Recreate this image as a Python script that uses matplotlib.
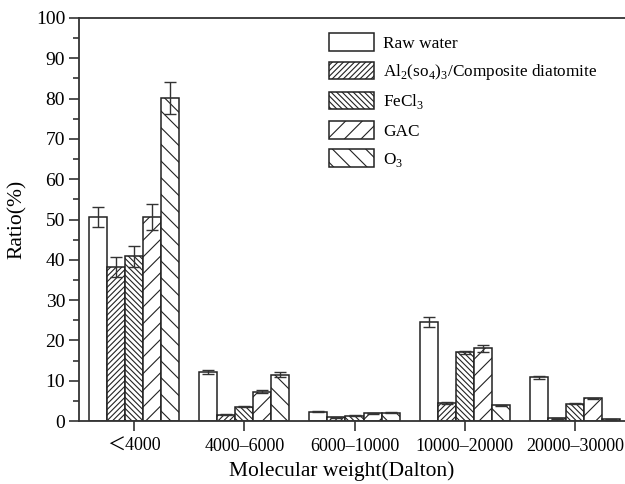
import numpy as np
import matplotlib.pyplot as plt

plt.rcParams['font.family'] = ['Liberation Serif', 'Noto Sans CJK SC']
plt.rcParams['mathtext.fontset'] = 'custom'
plt.rcParams['mathtext.rm'] = 'Liberation Serif'
plt.rcParams['hatch.linewidth'] = 0.8

# data
categories = ["＜4000", "4000–6000", "6000–10000", "10000–20000", "20000–30000"]
series = ["Raw water", r"Al$_2$(so$_4$)$_3$/Composite diatomite", r"FeCl$_3$", "GAC", r"O$_3$"]
raw_water = [50.7, 12.2, 2.3, 24.5, 10.8]
al2so43 = [38.2, 1.6, 0.9, 4.4, 0.7]
fecl3 = [40.9, 3.5, 1.3, 17.0, 4.3]
gac = [50.7, 7.3, 1.9, 18.0, 5.6]
o3 = [80.2, 11.5, 2.1, 3.9, 0.4]
err_raw = [2.5, 0.5, 0.1, 1.2, 0.4]
err_al = [2.5, 0.1, 0.1, 0.3, 0.1]
err_fe = [2.6, 0.1, 0.1, 0.3, 0.2]
err_gac = [3.2, 0.4, 0.1, 0.8, 0.2]
err_o3 = [4.0, 0.6, 0.1, 0.1, 0.1]

values = [raw_water, al2so43, fecl3, gac, o3]
errors = [err_raw, err_al, err_fe, err_gac, err_o3]
hatches = ["", "//////", "\\\\\\\\\\\\", "//", "\\\\"]

fig = plt.figure(figsize=(6.25, 4.84), dpi=100)
ax = fig.add_axes([79 / 625, 63 / 484, 1 - 79 / 625 + 0.001, 403 / 484])

x = np.arange(len(categories))
w = 0.164
for i in range(5):
    ax.bar(x + (i - 2) * w, values[i], w, yerr=errors[i], color="white",
           edgecolor="#222222", linewidth=1.1, hatch=hatches[i], label=series[i],
           error_kw=dict(ecolor="#333333", elinewidth=1.0, capsize=4, capthick=1.0))

ax.set_xlim(-0.5, 4.46)
ax.set_ylim(0, 100)
ax.set_yticks(np.arange(0, 101, 10))
ax.set_yticks(np.arange(5, 100, 10), minor=True)
ax.set_xticks(x)
ax.set_xticklabels(categories)
ax.tick_params(axis="both", width=1.2, length=7, color="#333333")
ax.tick_params(axis="y", labelsize=14, pad=3)
ax.tick_params(axis="x", labelsize=13, pad=5)
ax.tick_params(axis="y", which="minor", length=4, width=1.2, color="#333333")
for s in ["left", "bottom", "top"]:
    ax.spines[s].set_linewidth(1.3)
    ax.spines[s].set_color("#333333")
ax.spines["right"].set_visible(False)

ax.set_ylabel("Ratio(%)", fontsize=15.5)
ax.yaxis.set_label_coords(-0.095, 0.5)
ax.set_xlabel("Molecular weight(Dalton)", fontsize=15.5)
ax.xaxis.set_label_coords(0.48, -0.1)

leg = ax.legend(loc="upper left", bbox_to_anchor=(0.435, 0.992), frameon=False,
                fontsize=12.4, handlelength=2.6, handleheight=1.2, labelspacing=0.56,
                handletextpad=0.55, borderaxespad=0.3)

fig.savefig("out.png", dpi=100)
